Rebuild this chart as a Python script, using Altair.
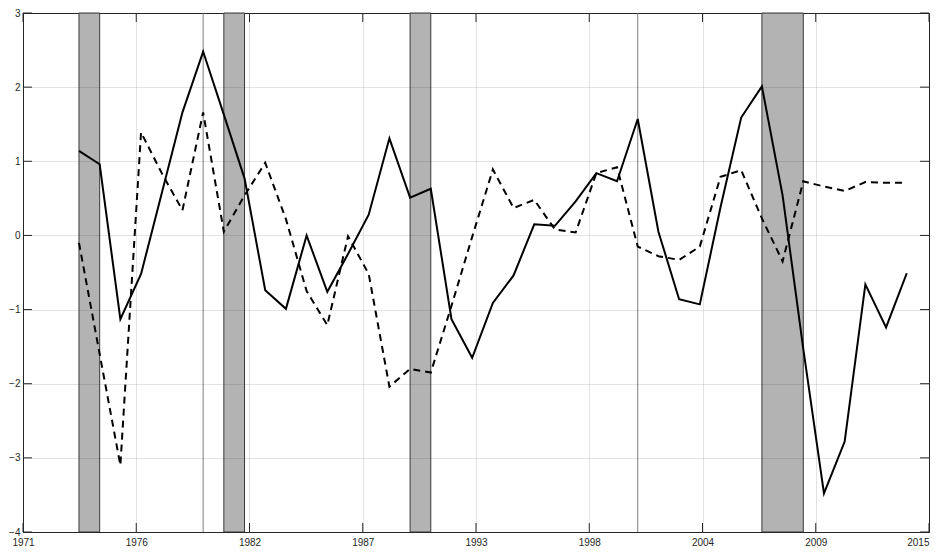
import altair as alt
import pandas as pd

# ---- data ----
years = [1974, 1975, 1976, 1977, 1978, 1979, 1980, 1981, 1982, 1983,
         1984, 1985, 1986, 1987, 1988, 1989, 1990, 1991, 1992, 1993,
         1994, 1995, 1996, 1997, 1998, 1999, 2000, 2001, 2002, 2003,
         2004, 2005, 2006, 2007, 2008, 2009, 2010, 2011, 2012, 2013, 2014]

solid_values = [1.14, 0.96, -1.13, -0.52, 0.57, 1.66, 2.48, 1.63, 0.77, -0.74,
                -0.99, 0.00, -0.76, -0.25, 0.28, 1.31, 0.51, 0.63, -1.13, -1.65,
                -0.91, -0.54, 0.15, 0.13, 0.46, 0.84, 0.73, 1.57, 0.05, -0.86,
                -0.93, 0.38, 1.59, 2.01, 0.54, -1.53, -3.48, -2.78, -0.66, -1.24,
                -0.51]

dashed_values = [-0.10, -1.60, -3.10, 1.39, 0.84, 0.34, 1.66, 0.05, 0.54, 0.98,
                 0.22, -0.75, -1.21, -0.01, -0.52, -2.04, -1.80, -1.85, -0.95, -0.02,
                 0.89, 0.37, 0.48, 0.08, 0.04, 0.84, 0.92, -0.15, -0.28, -0.33,
                 -0.15, 0.79, 0.88, 0.23, -0.35, 0.73, 0.66, 0.60, 0.72, 0.71,
                 0.71]

band_starts = [1974, 1981, 1990, 2007]
band_ends = [1975, 1982, 1991, 2009]

vline_years = [1980, 2001]

x_tick_labels = ["1971", "1976", "1982", "1987", "1993", "1998", "2004", "2009", "2015"]
y_tick_values = [-4, -3, -2, -1, 0, 1, 2, 3]

# axis span (date axis with 2000-day tick spacing)
x_start = 1971.295
x_span = 43.78
x_tick_pos = [x_start + j * x_span / 8 for j in range(len(x_tick_labels))]

W = 906
H = 519

df_solid = pd.DataFrame({"year": years, "value": solid_values})
df_dashed = pd.DataFrame({"year": years, "value": dashed_values})
df_bands = pd.DataFrame({"start": band_starts, "end": band_ends})
df_vlines = pd.DataFrame({"year": vline_years})
df_xt = pd.DataFrame({"pos": x_tick_pos, "label": x_tick_labels})
df_yt = pd.DataFrame({"v": y_tick_values})

xscale = alt.Scale(domain=[x_start, x_start + x_span], nice=False, zero=False)
yscale = alt.Scale(domain=[-4, 3], nice=False, zero=False)

xaxis = alt.Axis(values=x_tick_pos, labelExpr="floor(datum.value)", title=None,
                 grid=True, ticks=False, labelFlush=False, labelOverlap=False,
                 labelPadding=5, labelBaseline="top", zindex=1,
                 labelAlign=alt.ExprRef(expr="datum.value > 2014 ? 'right' : 'center'"))
yaxis = alt.Axis(values=y_tick_values, title=None, grid=True, ticks=False,
                 labelPadding=3, zindex=1)


def X(field):
    return alt.X(field, type="quantitative", scale=xscale, axis=xaxis)


def Y(field):
    return alt.Y(field, type="quantitative", scale=yscale, axis=yaxis)


bands = alt.Chart(df_bands).mark_rect(fill="#b3b3b3", stroke="#3a3a3a", strokeWidth=1).encode(
    x=X("start"), x2="end", y=alt.value(0), y2=alt.value(H)
)

vlines = alt.Chart(df_vlines).mark_rule(color="#7f7f7f", strokeWidth=1).encode(
    x=X("year"), y=alt.value(0), y2=alt.value(H)
)

solid = alt.Chart(df_solid).mark_line(color="black", strokeWidth=2).encode(
    x=X("year"), y=Y("value")
)

dashed = alt.Chart(df_dashed).mark_line(color="black", strokeWidth=2, strokeDash=[7, 5]).encode(
    x=X("year"), y=Y("value")
)

xt_bottom = alt.Chart(df_xt).mark_rule(color="#262626", strokeWidth=1).encode(
    x=X("pos"), y=alt.value(H), y2=alt.value(H - 9)
)
xt_top = alt.Chart(df_xt).mark_rule(color="#262626", strokeWidth=1).encode(
    x=X("pos"), y=alt.value(0), y2=alt.value(9)
)
yt_left = alt.Chart(df_yt).mark_rule(color="#262626", strokeWidth=1).encode(
    y=Y("v"), x=alt.value(0), x2=alt.value(9)
)
yt_right = alt.Chart(df_yt).mark_rule(color="#262626", strokeWidth=1).encode(
    y=Y("v"), x=alt.value(W), x2=alt.value(W - 9)
)

chart = alt.layer(bands, vlines, dashed, solid, xt_bottom, xt_top, yt_left, yt_right).properties(
    width=W, height=H,
    autosize=alt.AutoSizeParams(type="none"),
    padding={"left": 15, "top": 5, "right": 3, "bottom": 15},
    background="white",
).configure_view(
    stroke="#262626", strokeWidth=1
).configure_axis(
    domainColor="#262626", domainWidth=1,
    gridColor="#262626", gridOpacity=0.13, gridWidth=1,
    labelFont="Liberation Sans", labelFontSize=10, labelColor="#262626",
)

chart.save("out.html", embed_options={"renderer": "svg", "actions": False})
